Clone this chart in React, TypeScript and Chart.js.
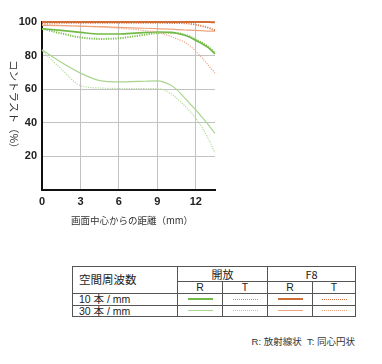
import React, { useEffect, useRef } from "react";
import { Chart, registerables } from "chart.js";

Chart.register(...registerables);

const xPositions = [0, 1.5, 3, 4.5, 6, 7.5, 9, 10, 10.5, 11, 11.5, 12, 12.5, 13, 13.5];
const open10R = [96, 95, 93.8, 92.8, 92.8, 93.5, 94, 93.8, 93.3, 92.4, 91, 89, 87, 84.5, 81];
const open10T = [96, 93.2, 90.8, 89.9, 90.3, 91.8, 93.4, 93.6, 93.4, 92.7, 91.5, 89.5, 87.5, 85, 81.5];
const open30R = [83.5, 76, 69.5, 65, 64.2, 64.5, 64.8, 62.5, 59.8, 55.8, 51.6, 47.5, 43, 38.5, 33.5];
const open30T = [83, 72, 62, 60.6, 60.3, 60.3, 60.3, 57.5, 54.5, 51, 47, 42.5, 37, 30, 22];
const f8_10R = [100, 100, 100, 100, 100, 100, 100, 100, 100, 100, 100, 100, 100, 100, 99.8];
const f8_10T = [99.5, 99.5, 99.5, 99.5, 99.5, 99.5, 99.5, 99.4, 99.4, 99.3, 99, 98.4, 97.6, 96.5, 95];
const f8_30R = [98, 97.8, 97.5, 97.2, 96.8, 96.4, 96, 95.7, 95.5, 95.3, 95.1, 95, 94.8, 94.6, 94.5];
const f8_30T = [98.5, 98, 97.5, 97, 96.3, 95.3, 93.8, 91.5, 90, 88.5, 86, 82.5, 78.5, 74, 69.5];

const xTicks = [0, 3, 6, 9, 12];
const yTicks = [20, 40, 60, 80, 100];
const yTitle = "コントラスト（%）";
const xTitle = "画面中心からの距離（mm）";

const frequencies = ["10 本 / mm", "30 本 / mm"];
const apertures = ["開放", "F8"];
const directions = ["R", "T"];
const caption = "R: 放射線状  T: 同心円状";

const GREEN10 = "#72ba48";
const GREEN30 = "#a9d58f";
const ORANGE10 = "#cf6d38";
const ORANGE30 = "#eca47f";

const pts = (vals: number[]) => vals.map((v, i) => ({ x: xPositions[i], y: v }));

const FONT_LATIN = '"Liberation Sans", Arial, "Noto Sans CJK JP", sans-serif';

const legendStyles: Record<string, { color: string; width: number; dotted: boolean }> = {
  "0-0-0": { color: GREEN10, width: 2, dotted: false },
  "0-0-1": { color: GREEN10, width: 1, dotted: true },
  "0-1-0": { color: ORANGE10, width: 2, dotted: false },
  "0-1-1": { color: ORANGE10, width: 1, dotted: true },
  "1-0-0": { color: GREEN30, width: 1, dotted: false },
  "1-0-1": { color: GREEN30, width: 1, dotted: true },
  "1-1-0": { color: ORANGE30, width: 1.5, dotted: false },
  "1-1-1": { color: ORANGE30, width: 1, dotted: true },
};

function App() {
  const ref = useRef<HTMLCanvasElement | null>(null);

  useEffect(() => {
    if (!ref.current) return;
    const titlePlugin = {
      id: "axisTitles",
      afterDraw(chart: any) {
        const { ctx, chartArea } = chart;
        ctx.save();
        ctx.fillStyle = "#333";
        ctx.textAlign = "center";
        ctx.textBaseline = "middle";
        ctx.font = '9.5px "Noto Sans CJK JP", sans-serif';
        ctx.fillText(xTitle, 132, 220);
        ctx.font = '10.5px "Noto Sans CJK JP", sans-serif';
        ctx.translate(13.5, (chartArea.top + chartArea.bottom) / 2 + 1);
        ctx.rotate(Math.PI / 2);
        ctx.fillText(yTitle, 0, 0);
        ctx.restore();
      },
    };
    const ds = (label: string, vals: number[], color: string, width: number, dotted: boolean) => ({
      label,
      data: pts(vals),
      borderColor: color,
      backgroundColor: color,
      borderWidth: width,
      borderDash: dotted ? [1.2, 1.2] : [],
      pointRadius: 0,
      cubicInterpolationMode: "monotone" as const,
      fill: false,
      clip: 4,
    });
    const chart = new Chart(ref.current, {
      type: "line",
      data: {
        datasets: [
          ds("F8 10R", f8_10R, ORANGE10, 2, false),
          ds("F8 10T", f8_10T, "#de7a48", 1.8, true),
          ds("F8 30R", f8_30R, ORANGE30, 1.2, false),
          ds("F8 30T", f8_30T, "#eea888", 1.2, true),
          ds("open 10R", open10R, GREEN10, 1.6, false),
          ds("open 10T", open10T, "#7cc04e", 2, true),
          ds("open 30R", open30R, GREEN30, 1.2, false),
          ds("open 30T", open30T, "#b5dc9c", 1.2, true),
        ],
      },
      options: {
        animation: false,
        responsive: false,
        maintainAspectRatio: false,
        layout: { padding: { left: 0, right: 167, top: 22, bottom: 0 } },
        plugins: { legend: { display: false }, tooltip: { enabled: false } },
        scales: {
          x: {
            type: "linear",
            min: 0,
            max: 13.5,
            afterFit: (s: any) => {
              s.height = 50.5;
            },
            afterBuildTicks: (s: any) => {
              s.ticks = xTicks.map((v) => ({ value: v }));
            },
            border: { color: "#111", width: 2 },
            grid: { color: "#c2c2c2", lineWidth: 1, drawTicks: false },
            ticks: {
              padding: 6,
              color: "#222",
              font: { family: FONT_LATIN, size: 11, weight: "bold" },
            },
          },
          y: {
            type: "linear",
            min: 0,
            max: 100,
            afterFit: (s: any) => {
              s.width = 42;
            },
            afterBuildTicks: (s: any) => {
              s.ticks = [0, ...yTicks].map((v) => ({ value: v }));
            },
            border: { color: "#111", width: 2 },
            grid: { color: "#c2c2c2", lineWidth: 1, drawTicks: false },
            ticks: {
              padding: 5,
              color: "#222",
              font: { family: FONT_LATIN, size: 11, weight: "bold" },
              callback: (v: any) => (v === 0 ? "" : String(v)),
            },
          },
        },
      },
      plugins: [titlePlugin],
    });
    return () => chart.destroy();
  }, []);

  const border = "1px solid #555";
  const cellBase: React.CSSProperties = {
    border,
    padding: 0,
    textAlign: "center",
    verticalAlign: "middle",
    color: "#222",
    fontSize: "10.5px",
    lineHeight: 1,
    overflow: "hidden",
    whiteSpace: "nowrap",
  };

  const lineCell = (key: string) => {
    const st = legendStyles[key];
    return (
      <td key={key} style={cellBase}>
        <div
          style={{
            width: 25,
            margin: "0 auto",
            borderTop: `${st.width}px ${st.dotted ? "dotted" : "solid"} ${st.color}`,
            height: 0,
          }}
        />
      </td>
    );
  };

  const rowHeights = [12, 11];

  return (
    <div style={{ position: "absolute", left: 0, top: 0, width: 382, height: 364, background: "#fff", fontFamily: FONT_LATIN }}>
      <canvas ref={ref} width={382} height={240} style={{ position: "absolute", left: 0, top: 0, width: 382, height: 240 }} />
      <table
        style={{
          position: "absolute",
          left: 72,
          top: 266,
          width: 283,
          borderCollapse: "collapse",
          tableLayout: "fixed",
        }}
      >
        <colgroup>
          <col style={{ width: 105 }} />
          <col style={{ width: 45 }} />
          <col style={{ width: 45 }} />
          <col style={{ width: 45 }} />
          <col style={{ width: 43 }} />
        </colgroup>
        <tbody>
          <tr style={{ height: 15 }}>
            <td
              rowSpan={2}
              style={{ ...cellBase, textAlign: "left", paddingLeft: 6, fontSize: "11.5px", fontFamily: '"Noto Sans CJK JP", sans-serif' }}
            >
              空間周波数
            </td>
            {apertures.map((a) => (
              <td key={a} colSpan={2} style={{ ...cellBase, fontSize: "11px", fontFamily: '"Noto Sans CJK JP", "Liberation Sans", sans-serif' }}>
                {a}
              </td>
            ))}
          </tr>
          <tr style={{ height: 11 }}>
            {apertures.map((a) =>
              directions.map((d) => (
                <td key={a + d} style={cellBase}>
                  {d}
                </td>
              ))
            )}
          </tr>
          {frequencies.map((f, fi) => (
            <tr key={f} style={{ height: rowHeights[fi] }}>
              <td style={{ ...cellBase, textAlign: "left", paddingLeft: 6, fontSize: "10.5px" }}>{f}</td>
              {apertures.map((_, ai) => directions.map((_, di) => lineCell(`${fi}-${ai}-${di}`)))}
            </tr>
          ))}
        </tbody>
      </table>
      <div
        style={{
          position: "absolute",
          right: 382 - 355,
          top: 336,
          fontSize: "9.5px",
          lineHeight: "12px",
          color: "#333",
          whiteSpace: "pre",
          fontFamily: '"Liberation Sans", "Noto Sans CJK JP", sans-serif',
        }}
      >
        {caption}
      </div>
    </div>
  );
}

export default App;
